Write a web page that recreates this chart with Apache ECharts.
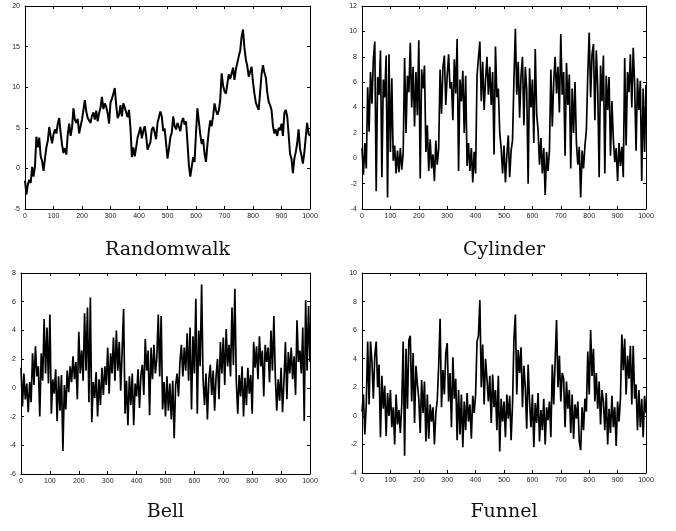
<!DOCTYPE html>
<html>
<head>
<meta charset="utf-8">
<script src="https://cdn.jsdelivr.net/npm/echarts@6/dist/echarts.min.js"></script>
<style>
  html, body { margin: 0; padding: 0; background: #fff; }
  #chart { width: 676px; height: 531px; }
</style>
</head>
<body>
<div id="chart"></div>
<script>
// panel names (shown under each plot)
const titles = ['Randomwalk', 'Cylinder', 'Bell', 'Funnel'];

// x runs 0..1000, values sampled evenly across it
const xMax = 1000;

// y axis ranges: [min, max, step]
const yRanges = [[-5, 20, 5], [-4, 12, 2], [-6, 8, 2], [-4, 10, 2]];

const randomwalk = [
  -1.5, -3.2, -2.0, -1.4, -1.8, 0.2, -1.0, 0.3, 3.9, 2.6, 3.8, 1.5, 0.9, -0.3, 1.2, 2.6, 3.4, 5.1, 4.0, 3.1,
  4.2, 4.8, 4.3, 5.5, 6.2, 4.4, 2.9, 1.9, 2.5, 1.7, 4.2, 5.5, 4.0, 5.0, 7.4, 6.0, 5.6, 6.1, 4.3, 5.2,
  6.0, 7.2, 8.4, 7.0, 6.2, 6.0, 5.6, 6.5, 6.9, 6.0, 7.1, 5.8, 6.8, 7.5, 8.8, 7.3, 8.0, 7.6, 6.8, 5.5,
  8.1, 8.6, 9.2, 9.9, 7.8, 6.2, 6.6, 7.8, 6.4, 8.0, 7.5, 7.7, 6.3, 7.2, 5.0, 1.4, 2.6, 1.5, 2.6, 3.8,
  4.4, 5.1, 3.7, 4.6, 5.2, 4.0, 2.3, 2.8, 3.2, 4.8, 5.1, 4.4, 3.6, 5.6, 6.3, 7.0, 6.4, 4.6, 4.9, 3.1,
  1.2, 2.4, 3.8, 4.4, 6.4, 5.2, 4.8, 5.6, 5.1, 4.6, 5.8, 6.2, 5.4, 5.8, 3.2, 0.4, -1.0, 0.2, 1.4, 0.8,
  4.4, 7.4, 5.8, 4.2, 3.0, 3.6, 1.8, 0.8, 2.9, 4.6, 5.9, 5.2, 6.4, 8.0, 7.2, 6.6, 7.1, 8.4, 11.7, 10.2,
  9.5, 9.2, 10.4, 11.6, 11.0, 11.7, 12.4, 10.9, 12.2, 13.0, 13.8, 14.5, 16.2, 17.1, 14.8, 13.4, 12.6, 11.3, 11.9, 12.5,
  10.6, 9.2, 8.1, 7.6, 7.2, 9.4, 11.6, 12.7, 11.8, 11.2, 9.4, 8.2, 7.8, 7.2, 5.2, 4.3, 4.8, 4.0, 5.0, 4.7,
  5.5, 4.0, 6.8, 7.2, 6.4, 4.2, 1.8, 1.2, -0.6, 1.2, 2.0, 3.1, 4.8, 2.4, 1.6, 0.6, 1.9, 3.8, 5.6, 4.3,
  4.0
];

const cylinder = [
  0.8, -1.3, 1.2, -0.8, 5.6, 2.1, 6.8, 4.3, 7.8, 9.2, -2.6, 6.4, 5.0, 8.5, -1.5, 6.2, 4.8, 8.1, -3.1, 8.2,
  0.5, 6.3, -0.2, 1.0, -1.2, 0.6, -1.1, 0.8, -0.9, 0.4, 7.9, 2.0, 6.5, 5.2, 9.1, 4.0, 7.2, 2.5, 6.8, 3.4,
  9.3, -1.6, 7.0, 5.5, 7.3, 0.5, 2.6, -1.0, 1.5, -0.8, 0.3, -1.8, 1.4, -0.5, 0.8, 7.0, 3.5, 7.2, 8.1, 4.2,
  6.5, 8.2, 5.5, 6.0, 3.0, 7.8, 5.1, 9.4, -1.0, 6.2, 4.5, 6.9, 2.0, 6.5, -0.6, 1.2, -1.0, 0.8, -1.9, 0.5,
  -1.2, 6.5, 7.9, 9.2, 4.5, 7.6, 3.8, 6.2, 8.0, 5.0, 7.2, 4.2, 6.8, 0.3, 8.8, 4.8, 5.5, 2.0, 0.8, -1.2,
  1.0, -1.9, 0.2, 1.8, -1.5, 0.6, 1.4, 6.2, 10.2, 5.0, 7.6, 3.2, 6.5, 8.0, 2.6, 7.2, 5.4, -2.0, 7.1, 4.0,
  6.2, 1.2, 8.6, 3.5, 2.2, -0.5, 1.6, -1.2, 0.8, -2.9, 0.5, -1.0, 0.6, 7.0, 2.5, 6.0, 8.0, 5.1, 7.2, 3.6,
  9.8, 5.0, 6.8, 0.2, 7.5, 4.2, 6.6, -0.8, 5.5, 2.0, 6.0, 1.2, -0.5, 0.9, -3.1, 0.6, -0.8, 1.0, 2.2, 6.6,
  9.9, 4.8, 8.2, 9.0, 3.0, 8.5, 5.6, -1.5, 7.3, 4.5, 8.1, -1.2, 6.5, 3.8, 6.4, 0.2, 4.5, 1.5, -0.3, 0.8,
  -1.8, 1.2, -0.6, 0.9, -1.5, 7.9, 1.0, 6.8, 5.2, 8.2, 4.0, 8.7, 5.8, 0.6, 6.3, 3.8, 6.1, -1.8, 5.5, 0.5,
  5.8
];

const bell = [
  1.4, -1.3, 1.0, -0.8, 0.3, -1.7, 0.4, -1.0, 2.4, 0.2, 2.9, 0.8, 1.5, -2.0, 2.4, 0.5, 4.8, 1.0, 4.2, 0.3,
  5.1, -1.8, 0.6, -0.4, 1.3, -2.3, 0.8, -1.6, 0.9, -4.4, 0.2, -1.5, 1.2, -0.3, 1.5, 0.4, 2.2, 0.6, 1.8, -0.8,
  3.9, 1.0, 2.6, 0.5, 5.2, 1.2, 5.6, -1.0, 6.3, -2.4, 0.4, -0.7, 1.1, -2.0, 0.6, -1.2, 1.4, -0.5, 1.5, 0.2,
  2.8, -0.4, 2.4, 1.0, 3.5, 0.5, 4.0, 1.2, 3.2, -0.2, 2.6, 5.5, -1.8, 0.5, -2.6, 0.8, -1.2, 1.0, -2.6, 0.3,
  -0.6, 1.3, -1.4, 0.9, 1.6, -0.5, 3.4, 1.2, 2.6, -1.9, 2.8, 0.6, 3.0, 1.0, 2.1, 5.1, 0.8, 5.0, -1.5, 0.4,
  -2.0, 0.8, -1.6, 0.3, -2.2, 0.5, -3.5, 0.2, 1.0, -0.6, 1.8, 3.0, 0.8, 2.8, 1.2, 3.8, 0.5, 4.2, -1.5, 3.6,
  1.0, 6.2, -1.8, 4.0, 1.5, 7.2, 0.6, -1.2, 1.0, -2.2, 0.6, 1.6, -0.5, 1.2, -1.6, 0.8, 2.0, -0.8, 3.2, 1.0,
  3.5, 0.2, 4.1, 1.5, 3.0, 0.8, 5.6, 1.6, 6.9, 0.5, -1.8, 0.9, -0.6, 1.5, -2.0, 0.7, -1.2, 1.4, -0.4, 0.9,
  -1.8, 3.2, 1.4, 2.9, 0.6, 3.6, 1.5, 2.6, -0.6, 3.0, 1.8, 2.8, 0.4, 4.0, 1.2, 5.0, 0.8, -1.6, 0.6, -0.9,
  1.4, -1.7, 0.5, 3.2, -0.8, 2.5, 1.0, 2.8, 0.6, 2.2, -0.5, 4.7, 1.8, 2.6, 1.0, 4.2, -2.3, 6.1, 1.2, 5.7,
  1.8
];

const funnel = [
  0.3, 1.5, -1.3, 0.8, 5.2, 0.8, 5.2, 3.8, 1.2, 4.2, 5.2, 2.0, 3.6, -1.5, 2.8, 0.5, 2.1, -1.4, 1.6, 0.0,
  1.8, -0.8, 0.6, -2.0, 1.5, -0.6, 0.4, -1.2, 0.8, 5.2, -2.8, 4.7, 0.5, 5.3, 5.6, 1.0, 4.4, -0.5, 3.5, 2.2,
  1.2, -1.2, 2.5, 0.2, 2.4, -1.8, 1.5, -1.6, 0.8, -0.4, 0.6, -2.0, 0.2, 1.1, 3.5, 6.8, 0.6, 3.2, 1.5, 4.4,
  5.1, 1.0, 3.0, -0.8, 4.1, 1.2, 2.6, -1.7, 1.8, -1.3, 1.5, -2.2, 1.0, -1.0, 1.6, -0.4, 0.8, -1.6, 1.4, 0.2,
  1.5, 5.2, 5.6, 8.1, 2.0, 5.0, 0.8, 4.0, 2.6, 1.0, 2.8, -0.5, 2.9, 0.6, 1.8, -1.0, 2.8, -2.5, 1.2, -0.4,
  1.0, -1.5, 1.5, -0.2, 1.4, -1.7, 0.8, 5.4, 7.1, 1.5, 4.6, 3.0, 4.8, 0.6, 3.5, 2.0, -0.9, 3.6, 1.0, -0.8,
  1.5, -2.2, 0.9, -0.5, 1.6, -1.8, 0.4, -1.0, 1.2, -2.0, 0.6, -0.3, 1.0, -1.5, 3.6, 0.8, 3.8, 6.7, 2.0, 4.2,
  1.0, 3.0, 2.6, -0.8, 2.4, 0.5, 1.8, -1.2, 1.5, -1.6, 0.8, -0.2, 1.0, -1.8, -2.4, 0.6, -1.0, 1.2, 0.3, 4.5,
  1.5, 6.0, 2.8, 4.7, 1.0, 3.0, 0.5, 2.4, -0.6, 1.8, 1.0, -1.0, 1.6, -2.0, 0.5, -1.2, 1.4, -0.8, 0.6, -2.1,
  1.0, -0.4, 1.2, 5.7, 3.2, 5.4, 1.5, 4.2, 2.6, 4.9, 0.8, 4.9, 1.2, 2.2, -1.0, 1.8, -0.8, 1.2, -1.5, 1.4,
  0.2
];

const seriesData = [randomwalk, cylinder, bell, funnel];

// plot boxes in pixels
const boxes = [
  { left: 25, top: 6, width: 285, height: 203 },
  { left: 362, top: 6, width: 284, height: 203 },
  { left: 21, top: 273, width: 289, height: 201 },
  { left: 362, top: 273, width: 284, height: 200 }
];
const titleY = [250, 250, 512, 512];

function toPairs(vals) {
  const step = xMax / (vals.length - 1);
  return vals.map((v, i) => [i * step, v]);
}

const frameLine = { show: true, onZero: false, lineStyle: { color: '#000', width: 1 } };
const tick = { show: true, inside: true, length: 3, lineStyle: { color: '#000', width: 1 } };
const labelStyle = { fontFamily: 'Liberation Sans', fontSize: 7, color: '#222', formatter: v => String(v) };

const grid = [], xAxis = [], yAxis = [], series = [], graphic = [];

boxes.forEach((b, p) => {
  grid.push(Object.assign({ containLabel: false }, b));
  const r = yRanges[p];
  ['bottom', 'top'].forEach((pos, k) => {
    xAxis.push({
      type: 'value', gridIndex: p, position: pos, min: 0, max: xMax, interval: 100,
      axisLine: frameLine, axisTick: tick, splitLine: { show: false },
      axisLabel: Object.assign({ show: k === 0, margin: 4 }, labelStyle)
    });
  });
  ['left', 'right'].forEach((pos, k) => {
    yAxis.push({
      type: 'value', gridIndex: p, position: pos, min: r[0], max: r[1], interval: r[2],
      axisLine: frameLine, axisTick: tick, splitLine: { show: false },
      axisLabel: Object.assign({ show: k === 0, margin: 5 }, labelStyle)
    });
  });
  series.push({
    type: 'line', xAxisIndex: p * 2, yAxisIndex: p * 2,
    data: toPairs(seriesData[p]), symbol: 'none', animation: false,
    lineStyle: { color: '#000', width: p === 0 ? 2 : 1.7 }
  });
  graphic.push({
    type: 'text', x: b.left + b.width / 2, y: titleY[p],
    style: {
      text: titles[p], fill: '#111', font: '19px "DejaVu Serif"',
      align: 'center', verticalAlign: 'middle',
      textAlign: 'center', textVerticalAlign: 'middle'
    }
  });
});

const chart = echarts.init(document.getElementById('chart'), null, { renderer: 'canvas' });
chart.setOption({
  backgroundColor: '#fff',
  animation: false,
  grid: grid,
  xAxis: xAxis,
  yAxis: yAxis,
  series: series,
  graphic: graphic
});
</script>
</body>
</html>
